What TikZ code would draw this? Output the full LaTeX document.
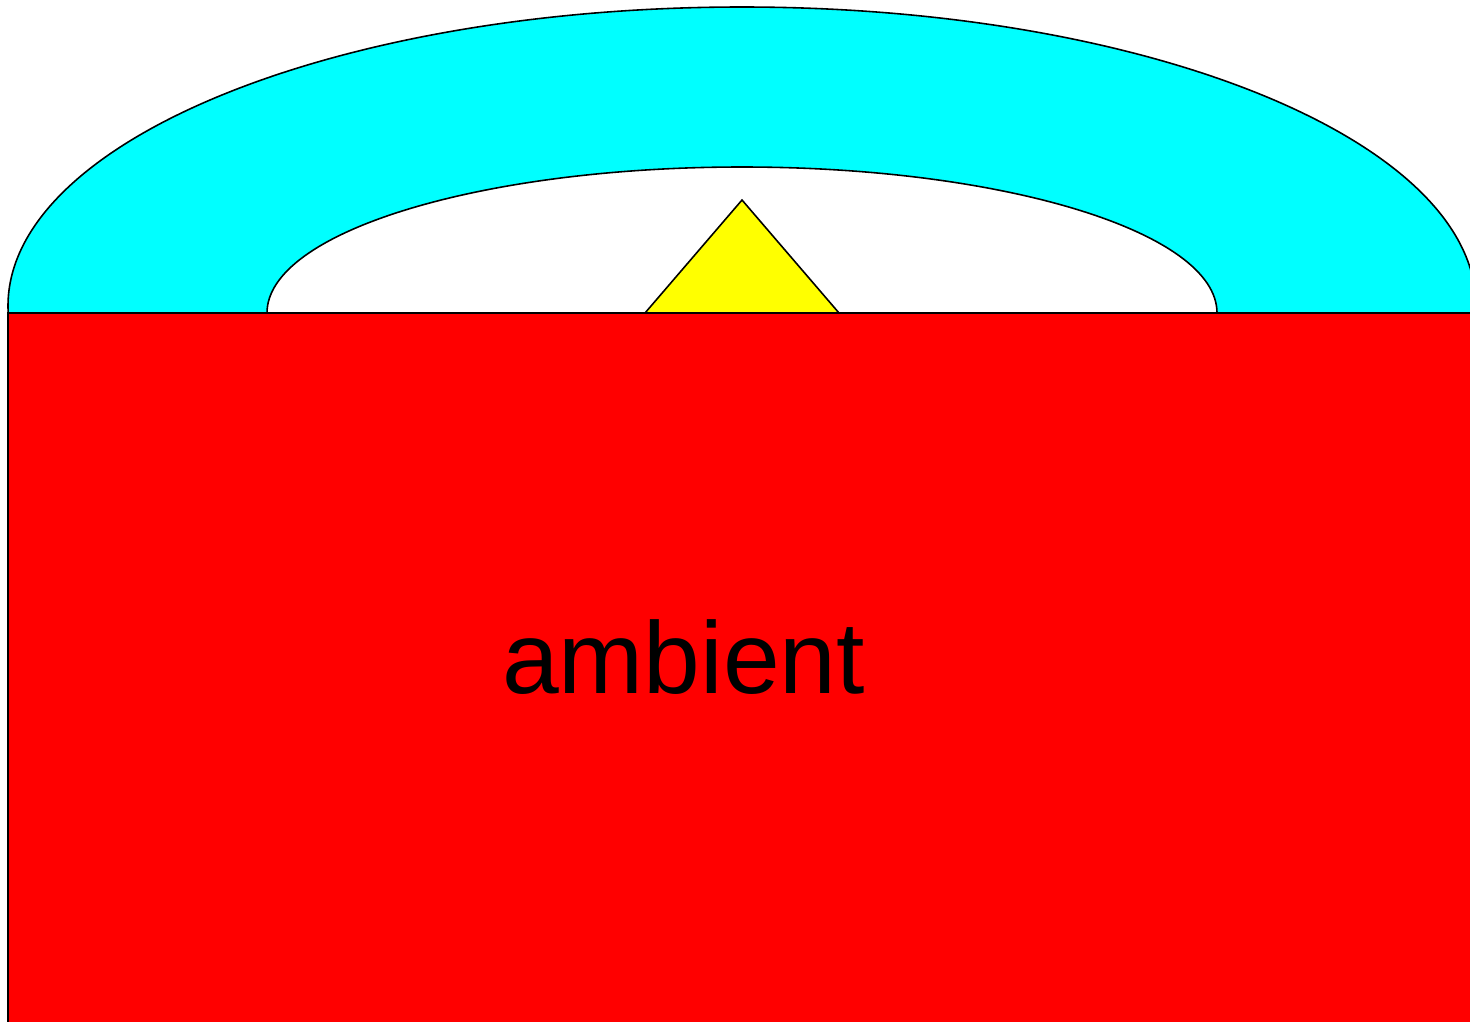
\documentclass[tikz,border=0pt]{standalone}
\usepackage{fontspec}
\setmainfont{Liberation Sans}
\definecolor{ringcyan}{RGB}{0,255,255}
\definecolor{ambred}{RGB}{255,0,0}
\definecolor{tipyellow}{RGB}{255,255,0}

\begin{document}
\begin{tikzpicture}[x=0.01cm,y=-0.01cm,line width=0.45pt]
  \useasboundingbox (0,0) rectangle (1470,1021);
  \clip (0,0) rectangle (1470,1021);
  \coordinate (O) at (742,306);
  \coordinate (I) at (742,313);
  \coordinate (T) at (742,200);
  \coordinate (L) at (645,313);
  \coordinate (R) at (839,313);
  \filldraw[fill=ringcyan] (O) ellipse [x radius=734, y radius=299];
  \filldraw[fill=white] (I) ellipse [x radius=475, y radius=146];
  \filldraw[fill=ambred] (8,313) rectangle (1490,1040);
  \filldraw[fill=tipyellow] (T) -- (L) -- (R) -- cycle;
  \node[anchor=base, inner sep=0pt, font=\fontsize{29}{34}\selectfont] (lbl) at (683.5,693) {ambient};
\end{tikzpicture}
\end{document}
